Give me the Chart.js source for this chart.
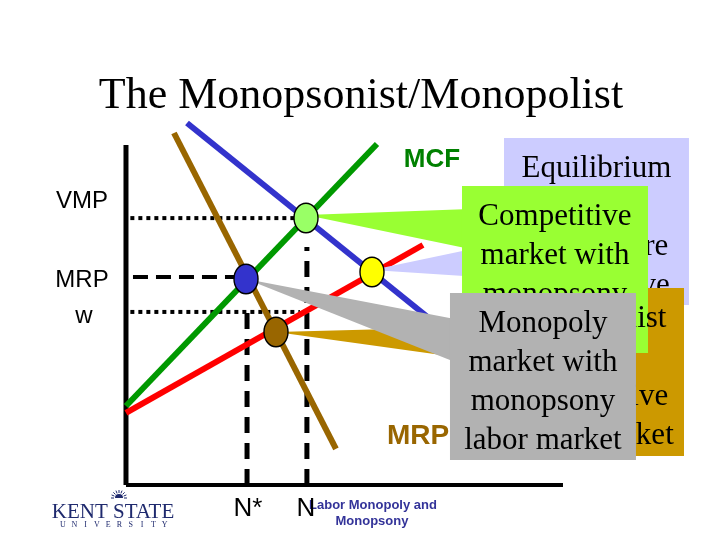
<!DOCTYPE html>
<html><head><meta charset="utf-8">
<script src="https://cdn.jsdelivr.net/npm/chart.js@4.4.0/dist/chart.umd.min.js"></script>
<style>html,body{margin:0;padding:0;background:#fff;}#wrap{width:720px;height:540px;position:relative}</style>
</head><body><div id="wrap"><canvas id="c" width="720" height="540"></canvas></div>
<script>
// ---------- DATA (x = labour N, y = wage / value; axis runs 0..100 on both) ----------
const vmpCurve      = [{x:13.96,y:106.47},{x:71.85,y:46.47}];   // VMP (blue)
const mrpCurve      = [{x:10.98,y:103.53},{x:48.05,y:10.59}];   // MRP (brown)
const mcfCurve      = [{x:0,y:23.24},{x:57.44,y:100.29}];       // MCF (green)
const supplyCurve   = [{x:0,y:21.18},{x:67.96,y:70.59}];        // labour supply w (red)
const ptCompMonopsony     = [{x:41.19,y:78.53}];  // VMP = MCF
const ptBothCompetitive   = [{x:56.29,y:62.65}];  // VMP = supply
const ptMonopolyMonopsony = [{x:27.46,y:60.59}];  // MRP = MCF
const ptMonopolyCompLabor = [{x:34.32,y:45.00}];  // MRP = supply
const vmpLevel  = [{x:1,y:78.5},{x:38.5,y:78.5}];
const mrpLevel  = [{x:1.6,y:61.2},{x:24.9,y:61.2}];
const wLevel    = [{x:1,y:50.9},{x:39.8,y:50.9}];
const nStarDrop = [{x:27.7,y:0},{x:27.7,y:52}];
const nDrop     = [{x:41.4,y:0},{x:41.4,y:70}];
const yAxisLine = [{x:0,y:0},{x:0,y:100}];
const xAxisLine = [{x:0,y:0},{x:100,y:0}];
const axisLabels = ['VMP','MRP','w'];
const curveLabels = ['MCF','MRP'];
const qtyLabels = ['N*','N'];
const titleText = 'The Monopsonist/Monopolist';
const calloutTexts = {
  lavender:['Equilibrium','when','markets are','competitive'],
  green:['Competitive','market with','monopsony','labor market'],
  gold:['Monopolist','in a','competitive','labor market'],
  gray:['Monopoly','market with','monopsony','labor market']
};
const footerLines = ['Labor Monopoly and','Monopsony'];

// ---------- styling / layout ----------
const SERIF = '"Liberation Serif","Times New Roman",serif';
const SANS = '"Liberation Sans",Arial,sans-serif';
function ellipse(fill){
  const c=document.createElement('canvas');c.width=28;c.height=34;
  const g=c.getContext('2d');g.beginPath();g.ellipse(14,17,12,14.8,0,0,Math.PI*2);
  g.fillStyle=fill;g.fill();g.lineWidth=1.4;g.strokeStyle='#000';g.stroke();return c;
}
function lineDs(data,color,width,dash){
  return {type:'scatter',data,showLine:true,borderColor:color,borderWidth:width,borderDash:dash||[],
    borderCapStyle:'butt',pointRadius:0,fill:false,order:10,clip:false};
}
function ptDs(data,fill){
  return {type:'scatter',data,pointStyle:ellipse(fill),pointRadius:14,order:1,isMarker:true,clip:false};
}
const callouts = {
  lavender:{fill:'#ccccff',wedge:[[56.29,63.24],[87.87,71.76],[87.87,60.59]],box:[86.5,102.06,128.83,52.94],dx:0},
  gold:{fill:'#cc9900',wedge:[[34.32,45.0],[87.0,46.76],[87.0,35.59]],box:[86.04,57.94,127.69,8.53],dx:2},
  green:{fill:'#99ff33',wedge:[[41.19,79.41],[78.72,81.18],[78.72,69.41]],box:[76.89,87.94,119.45,38.82],dx:0},
  gray:{fill:'#b2b2b2',wedge:[[27.46,60.59],[76.43,48.53],[76.43,35.59]],box:[74.14,56.47,116.7,7.35],dx:0}
};

function P(chart,x,y){return [chart.scales.x.getPixelForValue(x),chart.scales.y.getPixelForValue(y)];}
function drawShape(chart,c){
  const ctx=chart.ctx;ctx.save();ctx.fillStyle=c.fill;
  ctx.beginPath();c.wedge.forEach((p,i)=>{const q=P(chart,p[0],p[1]);i?ctx.lineTo(q[0],q[1]):ctx.moveTo(q[0],q[1]);});
  ctx.closePath();ctx.fill();
  const a=P(chart,c.box[0],c.box[1]),b=P(chart,c.box[2],c.box[3]);
  ctx.fillRect(a[0],a[1],b[0]-a[0],b[1]-a[1]);ctx.restore();
}
function drawBoxText(chart,c,lines){
  const ctx=chart.ctx;ctx.save();
  const a=P(chart,c.box[0],c.box[1]),b=P(chart,c.box[2],c.box[3]);
  ctx.font='31px '+SERIF;ctx.fillStyle='#000';ctx.textAlign='center';ctx.textBaseline='middle';
  const cx=(a[0]+b[0])/2+c.dx;
  lines.forEach((t,i)=>ctx.fillText(t,cx,a[1]+31+i*39));
  ctx.restore();
}
function txt(chart,t,x,y,font,color,align){
  const ctx=chart.ctx;ctx.save();const q=P(chart,x,y);
  ctx.font=font;ctx.fillStyle=color;ctx.textAlign=align||'center';ctx.textBaseline='middle';
  ctx.fillText(t,q[0],q[1]);ctx.restore();
}
function drawCallouts(chart){
  drawShape(chart,callouts.lavender);drawBoxText(chart,callouts.lavender,calloutTexts.lavender);
  drawShape(chart,callouts.gold);
  drawShape(chart,callouts.green);drawBoxText(chart,callouts.green,calloutTexts.green);
  drawBoxText(chart,callouts.gold,calloutTexts.gold);
  txt(chart,curveLabels[1],59.73,14.41,'bold 28px '+SANS,'#996600','left');
  drawShape(chart,callouts.gray);drawBoxText(chart,callouts.gray,calloutTexts.gray);
}
const slidePlugin={
  id:'slide',
  beforeDatasetsDraw(chart){chart.$co=false;},
  beforeDatasetDraw(chart,args){
    if(!chart.$co && chart.data.datasets[args.index].isMarker){drawCallouts(chart);chart.$co=true;}
  },
  afterDatasetsDraw(chart){
    if(!chart.$co){drawCallouts(chart);chart.$co=true;}
    const ctx=chart.ctx;
    txt(chart,axisLabels[0],-10.07,83.53,'24px '+SANS,'#000');
    txt(chart,axisLabels[1],-10.07,60.29,'24px '+SANS,'#000');
    txt(chart,axisLabels[2],-9.61,49.71,'24px '+SANS,'#000');
    txt(chart,curveLabels[0],70.02,95.59,'bold 26px '+SANS,'#008000');
    txt(chart,footerLines[0],56.52,-5.88,'bold 13px '+SANS,'#333399');
    txt(chart,footerLines[1],56.29,-10.59,'bold 13px '+SANS,'#333399');
    txt(chart,qtyLabels[0],27.92,-6.9,'26px '+SANS,'#000');
    txt(chart,qtyLabels[1],41.19,-6.9,'26px '+SANS,'#000');
    // title
    ctx.save();ctx.font='44px '+SERIF;ctx.fillStyle='#000';ctx.textAlign='center';ctx.textBaseline='alphabetic';
    ctx.fillText(titleText,361,108);
    // Kent State wordmark
    ctx.fillStyle='#1f2a6e';ctx.font='21px '+SERIF;ctx.fillText('KENT STATE',113,518);
    ctx.font='8px '+SERIF;const u='UNIVERSITY';for(let i=0;i<u.length;i++)ctx.fillText(u[i],63+i*11.3,527);
    ctx.beginPath();ctx.arc(119,498,4,Math.PI,0);ctx.fill();
    ctx.lineWidth=1;ctx.strokeStyle='#1f2a6e';
    for(let k=0;k<9;k++){const an=Math.PI+k*Math.PI/8;ctx.beginPath();ctx.moveTo(119+5*Math.cos(an),498+5*Math.sin(an));ctx.lineTo(119+8*Math.cos(an),498+8*Math.sin(an));ctx.stroke();}
    ctx.restore();
  }
};

new Chart(document.getElementById('c'),{
  type:'scatter',
  data:{datasets:[
    ptDs(ptCompMonopsony,'#99ff66'),
    ptDs(ptBothCompetitive,'#ffff00'),
    ptDs(ptMonopolyMonopsony,'#3333cc'),
    ptDs(ptMonopolyCompLabor,'#996600'),
    lineDs(vmpCurve,'#3333cc',6),
    lineDs(mrpCurve,'#996600',6),
    lineDs(mcfCurve,'#009900',6),
    lineDs(supplyCurve,'#ff0000',6),
    lineDs(vmpLevel,'#000',4,[4,4]),
    lineDs(wLevel,'#000',4,[4,4]),
    lineDs(mrpLevel,'#000',4,[15,8]),
    lineDs(nStarDrop,'#000',5,[16,10]),
    lineDs(nDrop,'#000',5,[16,10]),
    lineDs(yAxisLine,'#000',5),
    lineDs(xAxisLine,'#000',4)
  ]},
  options:{
    responsive:false,animation:false,devicePixelRatio:1,events:[],
    layout:{padding:0,autoPadding:false},
    plugins:{legend:{display:false},tooltip:{enabled:false},title:{display:false}},
    scales:{
      x:{type:'linear',display:false,min:-28.83,max:135.93},
      y:{type:'linear',display:false,min:-16.18,max:142.65}
    }
  },
  plugins:[slidePlugin]
});
</script></body></html>
